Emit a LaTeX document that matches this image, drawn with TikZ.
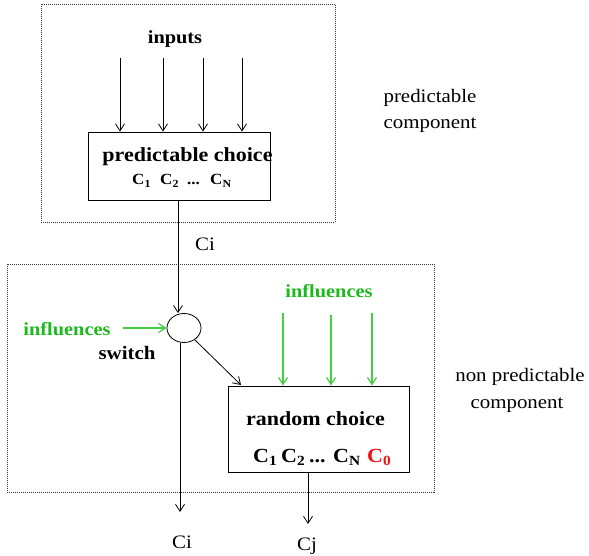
\documentclass[tikz,border=0pt]{standalone}
\usepackage{fontspec}
\setmainfont[FakeStretch=1.1]{Liberation Serif}
\usetikzlibrary{arrows.meta,shapes.geometric}
\definecolor{grtext}{RGB}{30,185,30}
\definecolor{grline}{RGB}{70,205,70}
\definecolor{redc}{RGB}{235,20,20}
\tikzset{
  ar/.style={-{Straight Barb[length=7pt,width=9pt]}, line width=0.8pt},
  gar/.style={ar, draw=grline, line width=1.2pt},
  frame/.style={draw=black!80, line width=0.9pt, dash pattern=on 1pt off 1pt},
  boxn/.style={draw, line width=0.9pt},
  txt/.style={font=\fontsize{19}{21}\selectfont, anchor=base, inner sep=0pt},
  btxt/.style={font=\bfseries\fontsize{20}{22}\selectfont, anchor=base, inner sep=0pt},
  gtxt/.style={font=\bfseries\fontsize{18.5}{20}\selectfont, anchor=base, inner sep=0pt, text=grtext},
  cs/.style={font=\bfseries\fontsize{15.5}{17}\selectfont, anchor=base west, inner sep=0pt},
  cl/.style={font=\bfseries\fontsize{20}{22}\selectfont, anchor=base west, inner sep=0pt},
}
\begin{document}
\begin{tikzpicture}[x=1pt,y=-1pt]
\useasboundingbox (0,0) rectangle (589,556);
% frames
\draw[frame] (41,4) rectangle (335,222);
\draw[frame] (7,264) rectangle (434,492);
% predictable part
\node[btxt, font=\bfseries\fontsize{18.5}{20}\selectfont] (inputs) at (175,44) {inputs};
\node[boxn, minimum width=182pt, minimum height=68pt, inner sep=0pt] (pbox) at (179,166) {};
\node[btxt] (ptitle) at (187.5,162) {predictable choice};
\node[cs] (p1) at (132,185) {C\textsubscript{1}};
\node[cs] (p2) at (160,185) {C\textsubscript{2}};
\node[cs] (p3) at (187,185) {...};
\node[cs] (p4) at (210,185) {C\textsubscript{N}};
\foreach \x/\n in {120/a,163/b,203/c,242/d} {
  \coordinate (in\n) at (\x,58);
  \draw[ar] (in\n) -- (in\n |- pbox.north);
}
\node[txt] (pc1) at (430,103) {predictable};
\node[txt] (pc2) at (430,129) {component};
% switch
\node[draw, ellipse, line width=0.8pt, minimum width=34pt, minimum height=29pt, inner sep=0pt] (sw) at (184,328) {};
\coordinate (pout) at (178,200);
\draw[ar] (pout) -- (pout |- sw.north);
\node[txt] (ci1) at (205,251) {Ci};
\node[gtxt] (linf) at (67,335) {influences};
\coordinate (lin) at (123,328);
\draw[gar] (lin) -- (sw.west);
\node[btxt, font=\bfseries\fontsize{19}{21}\selectfont] (swl) at (127,359) {switch};
\coordinate (swb) at (180,343);
\coordinate (ciend) at (180,512);
\draw[ar] (swb) -- (ciend);
\node[txt] (ci2) at (182,548) {Ci};
% random choice
\node[boxn, minimum width=181pt, minimum height=86pt, inner sep=0pt] (rbox) at (318.5,429) {};
\coordinate (swo) at (195,340);
\coordinate (rtl) at (241,385);
\draw[ar] (swo) -- (rtl);
\node[btxt] (rtitle) at (315.5,425) {random choice};
\node[cl] (r1) at (253,462) {C\textsubscript{1}};
\node[cl] (r2) at (281,462) {C\textsubscript{2}};
\node[cl] (r3) at (309,462) {...};
\node[cl] (r4) at (333,462) {C\textsubscript{N}};
\node[cl, text=redc] (r5) at (367,462) {C\textsubscript{0}};
\node[gtxt] (tinf) at (329,297) {influences};
\foreach \x/\y/\n in {283/313/a,331/315/b,372/313/c} {
  \coordinate (g\n) at (\x,\y);
  \draw[gar] (g\n) -- (g\n |- rbox.north);
}
\coordinate (rout) at (308,472);
\coordinate (cjend) at (308,524);
\draw[ar] (rout) -- (cjend);
\node[txt] (cj) at (307,550) {Cj};
\node[txt] (npc1) at (520,381) {non predictable};
\node[txt] (npc2) at (517,408) {component};
\end{tikzpicture}
\end{document}
